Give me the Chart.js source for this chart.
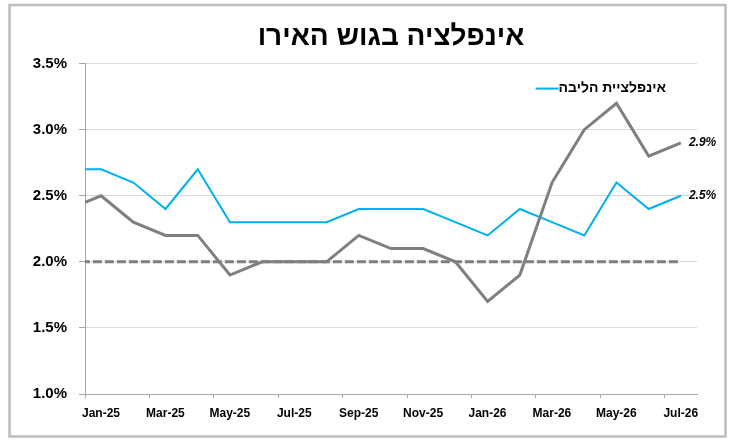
<!DOCTYPE html>
<html>
<head>
<meta charset="utf-8">
<script src="https://cdn.jsdelivr.net/npm/chart.js@4.4.1/dist/chart.umd.min.js"></script>
<style>
  html, body { margin: 0; padding: 0; background: #fff; }
  canvas { display: block; }
</style>
</head>
<body>
<canvas id="chart" width="736" height="446"></canvas>
<script>
// months from Dec-24 to Jul-26 (Dec-24 sits just left of the axis and is clipped)
const months = ["Dec-24", "Jan-25", "Feb-25", "Mar-25", "Apr-25", "May-25", "Jun-25",
  "Jul-25", "Aug-25", "Sep-25", "Oct-25", "Nov-25", "Dec-25", "Jan-26", "Feb-26",
  "Mar-26", "Apr-26", "May-26", "Jun-26", "Jul-26"];

// headline inflation (grey)
const headline = [2.4, 2.5, 2.3, 2.2, 2.2, 1.9, 2.0, 2.0, 2.0, 2.2, 2.1, 2.1, 2.0,
  1.7, 1.9, 2.6, 3.0, 3.2, 2.8, 2.9];

// core inflation (blue)
const core = [2.7, 2.7, 2.6, 2.4, 2.7, 2.3, 2.3, 2.3, 2.3, 2.4, 2.4, 2.4, 2.3,
  2.2, 2.4, 2.3, 2.2, 2.6, 2.4, 2.5];

// ECB target
const target = [2.0, 2.0, 2.0, 2.0, 2.0, 2.0, 2.0, 2.0, 2.0, 2.0, 2.0, 2.0, 2.0,
  2.0, 2.0, 2.0, 2.0, 2.0, 2.0, 2.0];

const title = "אינפלציה בגוש האירו";
const coreLabel = "אינפלציית הליבה";

const FONT = "'Liberation Sans', 'DejaVu Sans', Arial, sans-serif";

function toPoints(values) {
  return values.map((v, i) => ({ x: i, y: v }));
}

// frame around the whole chart
const framePlugin = {
  id: "frame",
  beforeDraw(chart) {
    const ctx = chart.ctx;
    ctx.save();
    ctx.fillStyle = "#fff";
    ctx.fillRect(0, 0, chart.width, chart.height);
    ctx.strokeStyle = "#bdbdbd";
    ctx.lineWidth = 2.5;
    ctx.strokeRect(9.5, 5, 716, 431.5);
    ctx.restore();
  }
};

// value labels at the last point of each series
const endLabels = {
  id: "endLabels",
  afterDatasetsDraw(chart) {
    const ctx = chart.ctx;
    ctx.save();
    ctx.font = "italic bold 12px " + FONT;
    ctx.fillStyle = "#000";
    ctx.textAlign = "left";
    ctx.textBaseline = "middle";
    [0, 1].forEach(di => {
      const pts = chart.getDatasetMeta(di).data;
      const p = pts[pts.length - 1];
      const v = chart.data.datasets[di].data[pts.length - 1].y;
      ctx.fillText(v.toFixed(1) + "%", p.x + 8, p.y);
    });
    ctx.restore();
  }
};

// legend inside the plot, top right (only the core series)
const innerLegend = {
  id: "innerLegend",
  afterDraw(chart) {
    const ctx = chart.ctx;
    const area = chart.chartArea;
    const ds = chart.data.datasets[1];
    ctx.save();
    ctx.font = "bold 14px " + FONT;
    ctx.fillStyle = "#000";
    ctx.textAlign = "right";
    ctx.textBaseline = "middle";
    const xr = area.right - 31;
    const y = area.top + 25;
    ctx.fillText(ds.label, xr, y);
    const w = ctx.measureText(ds.label).width;
    ctx.strokeStyle = ds.borderColor;
    ctx.lineWidth = 2;
    ctx.beginPath();
    ctx.moveTo(xr - w - 23, y);
    ctx.lineTo(xr - w, y);
    ctx.stroke();
    ctx.restore();
  }
};

new Chart(document.getElementById("chart"), {
  type: "line",
  data: {
    datasets: [
      {
        label: "אינפלציה",
        data: toPoints(headline),
        borderColor: "#7f7f7f",
        borderWidth: 3,
        pointRadius: 0,
        tension: 0,
        clip: 0
      },
      {
        label: coreLabel,
        data: toPoints(core),
        borderColor: "#00b0f0",
        borderWidth: 2,
        pointRadius: 0,
        tension: 0,
        clip: 0
      },
      {
        label: "יעד",
        data: toPoints(target),
        borderColor: "#7f7f7f",
        borderWidth: 3,
        borderDash: [9, 3],
        pointRadius: 0,
        tension: 0,
        clip: 0
      }
    ]
  },
  options: {
    responsive: false,
    animation: false,
    layout: { padding: { left: 9, right: 39, top: 5, bottom: 10 } },
    plugins: {
      legend: { display: false },
      tooltip: { enabled: false },
      title: {
        display: true,
        fullSize: false,
        text: title,
        color: "#000",
        font: { family: FONT, size: 28, weight: "bold" },
        padding: { top: 15, bottom: 10 }
      }
    },
    scales: {
      x: {
        type: "linear",
        min: 0.5,
        max: 19.5,
        afterBuildTicks(scale) {
          const t = [];
          for (let v = 0.5; v < 19; v += 2) t.push({ value: v });
          scale.ticks = t;
        },
        afterFit(scale) { scale.height = 42; },
        grid: {
          drawOnChartArea: false,
          drawTicks: true,
          tickLength: 4,
          color: "#a6a6a6"
        },
        border: { color: "#a6a6a6", width: 1 },
        ticks: {
          labelOffset: 16,
          padding: 8,
          maxRotation: 0,
          autoSkip: false,
          color: "#000",
          font: { family: FONT, size: 12, weight: "bold" },
          callback: v => months[v + 0.5]
        }
      },
      y: {
        min: 1.0,
        max: 3.5,
        afterFit(scale) { scale.width = 76; },
        grid: {
          color: "#d9d9d9",
          lineWidth: 1,
          tickLength: 6,
          tickColor: "#a6a6a6"
        },
        border: { color: "#a6a6a6", width: 1 },
        ticks: {
          stepSize: 0.5,
          padding: 12,
          color: "#000",
          font: { family: FONT, size: 15, weight: "bold" },
          callback: v => v.toFixed(1) + "%"
        }
      }
    }
  },
  plugins: [framePlugin, endLabels, innerLegend]
});
</script>
</body>
</html>
